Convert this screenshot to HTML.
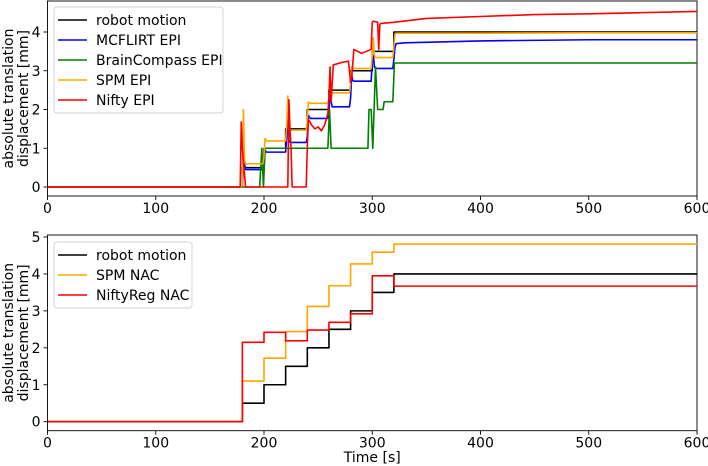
<!DOCTYPE html>
<html><head><meta charset="utf-8"><style>
body{margin:0;background:#fff}
svg{display:block;font-family:"DejaVu Sans","Liberation Sans",sans-serif}
</style></head><body>
<svg id="c" width="708" height="466" viewBox="0 0 708 466" xmlns="http://www.w3.org/2000/svg"></svg>
<script>
const xTicks=[0,100,200,300,400,500,600];
const topYTicks=[0,1,2,3,4];
const botYTicks=[0,1,2,3,4,5];
const robotT=[0,180,200,220,240,260,280,300,320,600];
const robotV=[0,0.5,1,1.5,2,2.5,3,3.5,4,4];
const epiT=[0,179,180,181,182,183,199,200,201,202,203,220,221,222,223,224,239,240,241,242,243,259,260,261,262,263,279,280,281,282,283,299,300,301,302,303,319,320,321,322,330,400,500,600];
const mcflirtV=[0,0,0.02,0.5,0.6,0.45,0.45,0.5,0.95,0.9,0.9,0.9,1.3,1.9,1.2,1.15,1.15,1.3,1.85,1.8,1.77,1.77,1.9,2.5,2.2,2.07,2.07,2.3,2.9,2.75,2.73,2.73,3.2,3.4,3.1,3.06,3.06,3.3,3.6,3.7,3.72,3.77,3.8,3.8];
const spmEpiV=[0,0,0.05,2.0,0.7,0.6,0.6,0.8,1.25,1.2,1.19,1.19,1.6,2.35,1.6,1.47,1.47,1.7,2.2,2.17,2.16,2.16,2.3,2.8,2.45,2.43,2.43,2.7,3.1,3.07,3.06,3.06,3.4,3.85,3.4,3.34,3.34,3.6,3.95,3.97,3.97,3.97,3.98,3.98];
const brainT=[0,196,198,199.5,201,259,260.5,262,296,297,299,300.5,303,305,310,311,319,320.5,600];
const brainV=[0,0,1,0,1,1,2.0,1,1,2.0,2.0,1,3.1,2.0,2.0,2.2,2.2,3.2,3.2];
const niftyT=[0,178,179,180,183,222,223,224,225,226,239,240,241,244,247,250,253,256,259,260,261,262,264,270,278,280,281,283,290,299,300,301,305,306,307,308,320,350,400,450,500,550,600];
const niftyV=[0,0,1.68,1.0,0,0,2.25,1.5,1.0,0,0,1.0,1.75,1.6,1.5,1.55,1.45,1.6,1.9,2.3,3.1,2.2,3.15,3.2,3.25,2.7,2.8,3.55,3.45,3.55,4.25,4.28,4.25,3.55,4.2,4.22,4.25,4.35,4.4,4.45,4.47,4.5,4.53];
const nacT=[0,180,200,220,240,260,280,300,320,600];
const spmNacV=[0,1.1,1.72,2.44,3.12,3.68,4.27,4.59,4.81,4.81];
const niftyNacV=[0,2.15,2.42,2.19,2.48,2.69,2.92,3.95,3.67,3.67];

const NS='http://www.w3.org/2000/svg';
const svg=document.getElementById('c');
function mk(tag,attrs,parent){const e=document.createElementNS(NS,tag);for(const k in attrs)e.setAttribute(k,attrs[k]);(parent||svg).appendChild(e);return e;}
const X0=47.5,X1=697;
const xs=t=>X0+(X1-X0)*t/600;
const topY=v=>187-38.75*v;
const botY=v=>421.7-36.94*v;
const FS=14;

function axes(name,top,bottom,yf,yticks){
  const g=mk('g',{});
  
  
  mk('rect',{x:X0,y:top,width:X1-X0,height:bottom-top,fill:'none',stroke:'#000','stroke-width':0.9},g);
  xTicks.forEach(t=>{
    mk('line',{x1:xs(t),x2:xs(t),y1:bottom,y2:bottom+4,stroke:'#000','stroke-width':0.9},g);
    const tx=mk('text',{x:xs(t),y:bottom+17,'text-anchor':'middle','font-size':FS,fill:'#000'},g);
    tx.textContent=t;
    
    
  });
  yticks.forEach(v=>{
    mk('line',{x1:X0-4,x2:X0,y1:yf(v),y2:yf(v),stroke:'#000','stroke-width':0.9},g);
    const tx=mk('text',{x:X0-7,y:yf(v)+5,'text-anchor':'end','font-size':FS,fill:'#000'},g);
    tx.textContent=v;
    
    
  });
  const cy=(top+bottom)/2;
  const yl=mk('text',{transform:`translate(13,${cy}) rotate(-90)`,'text-anchor':'middle','font-size':FS},g);
  
  
  const a=mk('tspan',{x:0,dy:0},yl);a.textContent='absolute translation';
  const b=mk('tspan',{x:0,dy:15},yl);b.textContent='displacement [mm]';
  return g;
}
function line(name,T,V,yf,color,step){
  let pts=[];
  for(let i=0;i<T.length;i++){
    if(step&&i>0)pts.push(xs(T[i])+','+yf(V[i-1]));
    pts.push(xs(T[i])+','+yf(V[i]));
  }
  const p=mk('polyline',{points:pts.join(' '),fill:'none',stroke:color,'stroke-width':1.6,'stroke-linejoin':'round'});
  
  
}
function legend(name,x,y,w,entries){
  const g=mk('g',{});
  
  
  mk('rect',{x:x,y:y,width:w,height:entries.length*20+6,rx:3,fill:'#fff','fill-opacity':0.85,stroke:'#d0d0d0','stroke-width':0.9},g);
  entries.forEach((e,i)=>{
    const yy=y+13+i*20;
    mk('line',{x1:x+4,x2:x+33,y1:yy,y2:yy,stroke:e[1],'stroke-width':1.6},g);
    const t=mk('text',{x:x+42,y:yy+5,'font-size':FS},g);t.textContent=e[0];
    
    
  });
}
axes('top-axes',1,196,topY,topYTicks);
axes('bottom-axes',235,430.7,botY,botYTicks);
line('robot-motion-epi',robotT,robotV,topY,'#000',true);
line('mcflirt-epi',epiT,mcflirtV,topY,'#0000ff',false);
line('braincompass-epi',brainT,brainV,topY,'#008000',false);
line('spm-epi',epiT,spmEpiV,topY,'#ffa500',false);
line('nifty-epi',niftyT,niftyV,topY,'#ff0000',false);
line('robot-motion-nac',robotT,robotV,botY,'#000',true);
line('spm-nac',nacT,spmNacV,botY,'#ffa500',true);
line('niftyreg-nac',nacT,niftyNacV,botY,'#ff0000',true);
legend('top-legend',54,7,169,[['robot motion','#000'],['MCFLIRT EPI','#0000ff'],['BrainCompass EPI','#008000'],['SPM EPI','#ffa500'],['Nifty EPI','#ff0000']]);
legend('bottom-legend',54,242,138,[['robot motion','#000'],['SPM NAC','#ffa500'],['NiftyReg NAC','#ff0000']]);
const xl=mk('text',{x:(X0+X1)/2,y:462,'text-anchor':'middle','font-size':FS});
xl.textContent='Time [s]';


</script>
</body></html>
